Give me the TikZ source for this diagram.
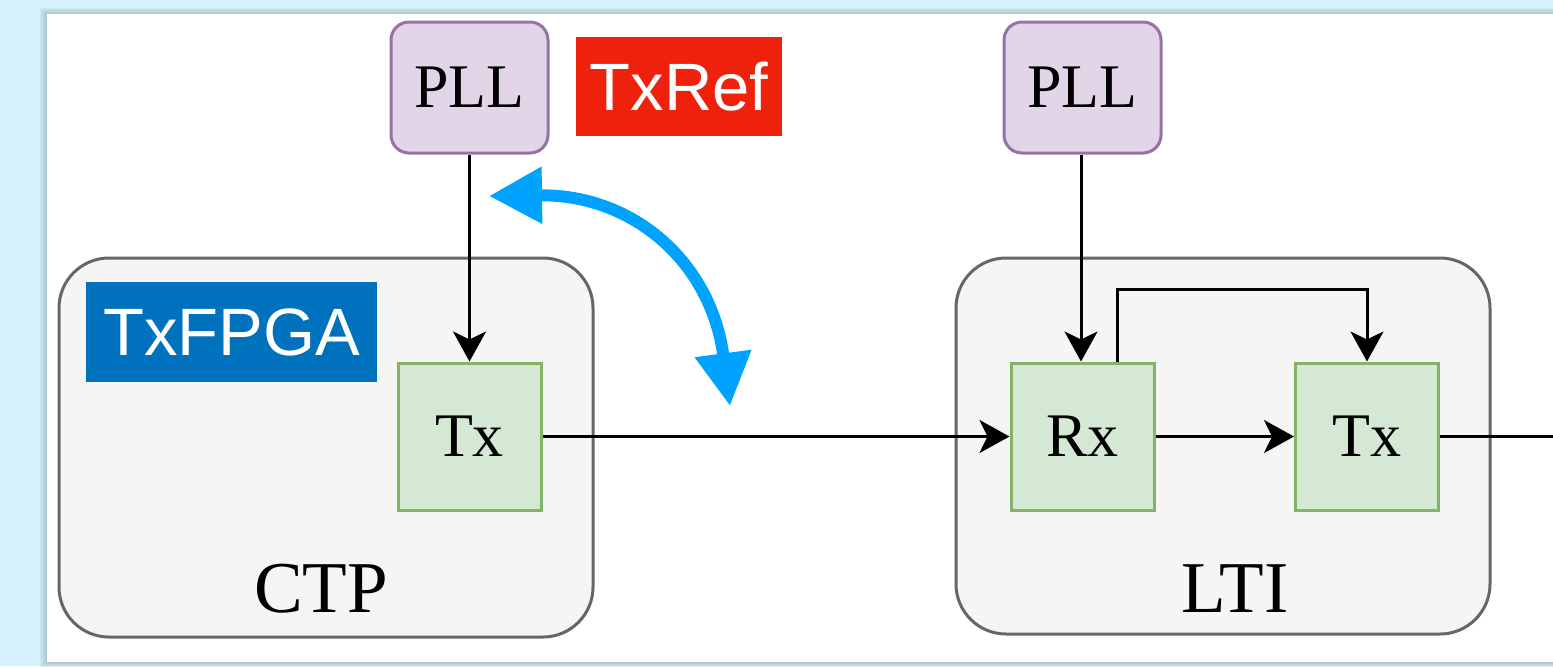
\documentclass[tikz,border=0pt]{standalone}
\usepackage{fontspec}
\setmainfont{Liberation Serif}
\newfontfamily\hsans{Liberation Sans}
\usetikzlibrary{arrows.meta,calc}
\definecolor{bgblue}{RGB}{212,241,252}
\definecolor{pllfill}{RGB}{225,213,231}
\definecolor{pllline}{RGB}{150,115,166}
\definecolor{grnfill}{RGB}{213,232,212}
\definecolor{grnline}{RGB}{130,179,102}
\definecolor{boxfill}{RGB}{245,245,245}
\definecolor{boxline}{RGB}{102,102,102}
\definecolor{refred}{RGB}{238,34,12}
\definecolor{fpgablue}{RGB}{0,113,188}
\definecolor{arrblue}{RGB}{0,162,255}
\tikzset{
  pllbox/.style={draw=pllline, fill=pllfill, line width=1.5pt, rounded corners=9pt,
    minimum width=78.5pt, minimum height=65.5pt, inner sep=0pt, font=\fontsize{31}{36}\selectfont},
  blk/.style={draw=grnline, fill=grnfill, line width=1.5pt,
    minimum width=71.5pt, minimum height=73.5pt, inner sep=0pt, font=\fontsize{31}{36}\selectfont},
  container/.style={draw=boxline, fill=boxfill, line width=1.5pt, rounded corners=25pt,
    minimum width=267pt, inner sep=0pt},
  tag/.style={inner sep=0pt, text=white, font=\hsans\fontsize{33.5}{38}\selectfont},
  biglabel/.style={inner sep=0pt, font=\fontsize{36.5}{42}\selectfont},
  arr/.style={draw=black, line width=1.5pt, -{Stealth[length=15pt,width=16.5pt,inset=4pt]}},
  plainline/.style={draw=black, line width=1.5pt},
  bluearr/.style={draw=arrblue, line width=6pt,
    {Triangle[length=26.5pt,width=27pt]}-{Triangle[length=26.5pt,width=27pt]}}
}
\begin{document}
\begin{tikzpicture}[x=0.5pt,y=-0.5pt]
\useasboundingbox (0,0) rectangle (1553,666);
\fill[bgblue] (0,0) rectangle (1553,666);
\foreach \i in {1,...,5}{
  \fill[black, opacity=0.035] (47-\i*1.4,14-\i*1.2) rectangle (1553,662+\i*1.2);
}
\fill[white] (47,14) rectangle (1553,662);

% containers
\node[container, minimum height=189.5pt] (ctp) at (326,447.5) {};
\node[container, minimum height=188pt] (lti) at (1223,446) {};
\node[biglabel] (ctplab) at (321,589) {CTP};
\node[biglabel] (ltilab) at (1235,589) {LTI};

% top boxes
\node[pllbox] (pll1) at (469.5,87.5) {PLL};
\node[pllbox] (pll2) at (1082.5,87.5) {PLL};
\node[tag, fill=refred, minimum width=103pt, minimum height=49.5pt] (txref) at (679,86.5) {TxRef};
\node[tag, fill=fpgablue, minimum width=145.5pt, minimum height=50pt] (txfpga) at (231.5,332) {TxFPGA};

% blocks
\node[blk] (tx1) at (469.5,436.5) {Tx};
\node[blk] (rx) at (1082.5,436.5) {Rx};
\node[blk] (tx2) at (1367,436.5) {Tx};

% connectors
\coordinate (px) at (1081,0);
\draw[arr] (pll1.south) -- (tx1.north);
\draw[arr] (pll2.south -| px) -- (rx.north -| px);
\draw[arr] (tx1.east) -- (rx.west);
\draw[arr] (rx.east) -- (tx2.west);
\coordinate (lp) at (1117,289);
\draw[arr] (rx.north -| lp) |- (tx2.north |- lp) -- (tx2.north);
\coordinate (exit) at (1553,436.5);
\draw[plainline] (tx2.east) -- (exit);

% blue double arrow
\coordinate (b1) at (489,196);
\coordinate (b2) at (730,406);
\draw[bluearr] (b1) .. controls (633,194) and (711,262) .. (b2);
\end{tikzpicture}
\end{document}
